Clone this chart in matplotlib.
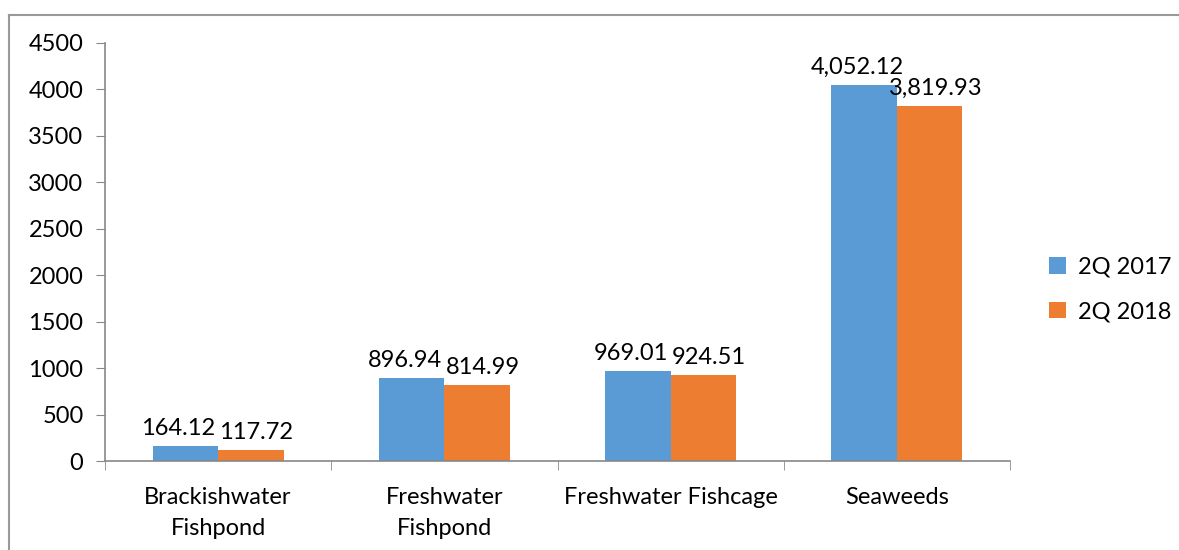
import matplotlib.pyplot as plt
from matplotlib.lines import Line2D
import numpy as np

# data
categories = ["Brackishwater\nFishpond", "Freshwater\nFishpond", "Freshwater Fishcage", "Seaweeds"]
values_2017 = [164.12, 896.94, 969.01, 4052.12]
values_2018 = [117.72, 814.99, 924.51, 3819.93]
series_names = ["2Q 2017", "2Q 2018"]
colors = ["#5B9BD5", "#ED7D31"]

plt.rcParams['font.family'] = ['Lato', 'DejaVu Sans']
FS = 17

fig = plt.figure(figsize=(11.79, 5.5), dpi=100)
ax = fig.add_axes([105/1179, 1-461/550, 905/1179, 418/550])

x = np.arange(len(categories))
w = 0.29
b1 = ax.bar(x - w/2, values_2017, w, color=colors[0], label=series_names[0])
b2 = ax.bar(x + w/2, values_2018, w, color=colors[1], label=series_names[1])

# labels nudged apart a little so neighbours do not collide
for bars, vals, dx in [(b1, values_2017, -5), (b2, values_2018, 4)]:
    for bar, v in zip(bars, vals):
        ax.annotate(f"{v:,.2f}", (bar.get_x() + bar.get_width()/2, v),
                    xytext=(dx, 5), textcoords='offset points',
                    ha='center', va='bottom', fontsize=FS)

ax.set_xlim(-0.5, len(categories) - 0.5)
ax.set_ylim(0, 4500)
ax.set_yticks(range(0, 4501, 500))
ax.tick_params(axis='y', labelsize=FS, length=6.5, color='#888888', pad=9)
ax.set_xticks(x)
ax.set_xticklabels(categories, fontsize=FS, linespacing=1.55)
ax.tick_params(axis='x', length=0, pad=19)
# tick marks at category boundaries
ax.set_xticks(np.arange(-0.5, len(categories)), minor=True)
ax.tick_params(axis='x', which='minor', length=6.5, color='#888888')

for s in ['top', 'right']:
    ax.spines[s].set_visible(False)
for s in ['left', 'bottom']:
    ax.spines[s].set_color('#888888')
    ax.spines[s].set_linewidth(1.2)

ax.legend(loc='center left', bbox_to_anchor=(1.02, 0.41), frameon=False,
          fontsize=FS, handlelength=0.7, handleheight=0.7, handletextpad=0.5,
          labelspacing=1.0)

# outer chart border (top and left visible)
fig.add_artist(Line2D([9/1179, 9/1179], [0, 1-15/550], color='#999999', lw=1.5, transform=fig.transFigure))
fig.add_artist(Line2D([9/1179, 1], [1-15/550, 1-15/550], color='#999999', lw=1.5, transform=fig.transFigure))

plt.savefig("out.png", dpi=100)
plt.close()
